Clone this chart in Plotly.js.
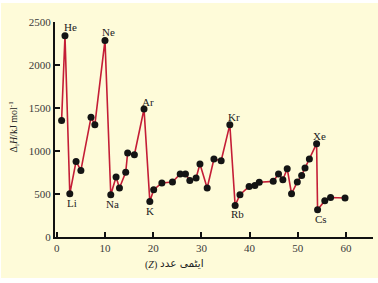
<!DOCTYPE html>
<html>
<head>
<meta charset="utf-8">
<script src="https://cdn.plot.ly/plotly-3.0.1.min.js"></script>
<style>
html,body{margin:0;padding:0;background:#fff;}
#wrap{position:relative;width:378px;height:283px;}
#cream{position:absolute;left:1px;top:3px;width:377px;height:275px;background:#fefbd9;}
#chart{position:absolute;left:0;top:0;width:378px;height:283px;}
</style>
</head>
<body>
<div id="wrap"><div id="cream"></div><div id="chart"></div></div>
<script>
// Atomic number (as drawn) and first ionization enthalpy (kJ/mol)
const atomicNumber = [1, 1.7, 2.7, 4, 5, 7.1, 7.9, 10, 11.2, 12.3, 13, 14.3, 14.7, 16.1, 18.1, 19.3, 20.1, 21.8, 24, 25.6, 26.7, 27.6, 28.9, 29.7, 31.2, 32.6, 34.1, 35.9, 37, 38, 39.9, 41.1, 42, 44.9, 46, 46.9, 47.8, 48.7, 49.9, 50.8, 51.5, 52.4, 53.9, 54.1, 55.6, 56.8, 59.8];
const ionEnthalpy = [1356, 2341, 503, 879, 774, 1391, 1306, 2286, 492, 698, 570, 753, 977, 957, 1488, 414, 550, 628, 640, 733, 733, 658, 686, 849, 570, 907, 887, 1306, 367, 492, 588, 600, 637, 647, 733, 666, 794, 503, 640, 716, 802, 907, 1085, 317, 422, 460, 453];
const xTicks = [0, 10, 20, 30, 40, 50, 60];
const yTicks = [0, 500, 1000, 1500, 2000, 2500];
const elementLabels = ['He', 'Ne', 'Ar', 'Kr', 'Xe', 'Li', 'Na', 'K', 'Rb', 'Cs'];
const elementPointIndex = [1, 7, 14, 27, 42, 2, 8, 15, 28, 43];
const yTitle = 'Δ<sub>i</sub><i>H</i>/kJ mol<sup>-1</sup>';
const xTitleWords = 'ایٹمی عدد';
const xTitleSymbol = '(<i>Z</i>)';

// label offsets (styling only)
const labelShift = [[5.5, 9], [3.5, 8], [4, 7.5], [4, 8], [2.5, 8], [2.5, -9], [2, -9], [0.5, -9.5], [2, -8.5], [3, -9]];

const serif = 'Liberation Serif, Times New Roman, serif';
const annotations = elementLabels.map((name, k) => ({
  x: atomicNumber[elementPointIndex[k]],
  y: ionEnthalpy[elementPointIndex[k]],
  xref: 'x', yref: 'y', text: name, showarrow: false,
  xshift: labelShift[k][0], yshift: labelShift[k][1],
  xanchor: 'center', yanchor: 'middle',
  font: {family: serif, size: 11, color: '#222'}
}));
const L = 55, R = 5, T = 22, B = 46, W = 378, H = 283;
const pw = W - L - R, ph = H - T - B;
function px(xp, yp) { return {x: (xp - L) / pw, y: (H - B - yp) / ph}; }
const p1 = px(13.5, 127), p2 = px(182, 263), p3 = px(150.5, 265);
annotations.push({
  x: p1.x, y: p1.y, xref: 'paper', yref: 'paper', xanchor: 'center', yanchor: 'middle',
  showarrow: false, text: yTitle, textangle: -90,
  font: {family: serif, size: 10, color: '#222'}
});
annotations.push({
  x: p2.x, y: p2.y, xref: 'paper', yref: 'paper', xanchor: 'center', yanchor: 'middle',
  showarrow: false, text: xTitleWords,
  font: {family: 'DejaVu Sans, sans-serif', size: 10.5, color: '#222'}
});
annotations.push({
  x: p3.x, y: p3.y, xref: 'paper', yref: 'paper', xanchor: 'center', yanchor: 'middle',
  showarrow: false, text: xTitleSymbol,
  font: {family: serif, size: 10, color: '#222'}
});

const trace = {
  x: atomicNumber, y: ionEnthalpy, type: 'scatter', mode: 'lines+markers',
  line: {color: '#c41d36', width: 1.6},
  marker: {color: '#141414', size: 7},
  hoverinfo: 'none'
};

const axisStyle = {
  showgrid: false, zeroline: false, showline: true, linecolor: '#111', linewidth: 2,
  ticks: 'inside', ticklen: 5, tickwidth: 2, tickcolor: '#111',
  tickfont: {family: serif, size: 11, color: '#3a3a3a'}, fixedrange: true
};

const layout = {
  width: W, height: H,
  margin: {l: L, r: R, t: T, b: B, pad: 0},
  paper_bgcolor: 'rgba(0,0,0,0)',
  plot_bgcolor: 'rgba(0,0,0,0)',
  showlegend: false,
  font: {family: serif, size: 11, color: '#333'},
  xaxis: Object.assign({range: [-0.37, 65.6], tickvals: xTicks, ticktext: xTicks.map(String)}, axisStyle),
  yaxis: Object.assign({range: [0, 2500], tickvals: yTicks, ticktext: yTicks.map(String)}, axisStyle),
  annotations: annotations
};

Plotly.newPlot('chart', [trace], layout, {displayModeBar: false, staticPlot: true});
</script>
</body>
</html>
